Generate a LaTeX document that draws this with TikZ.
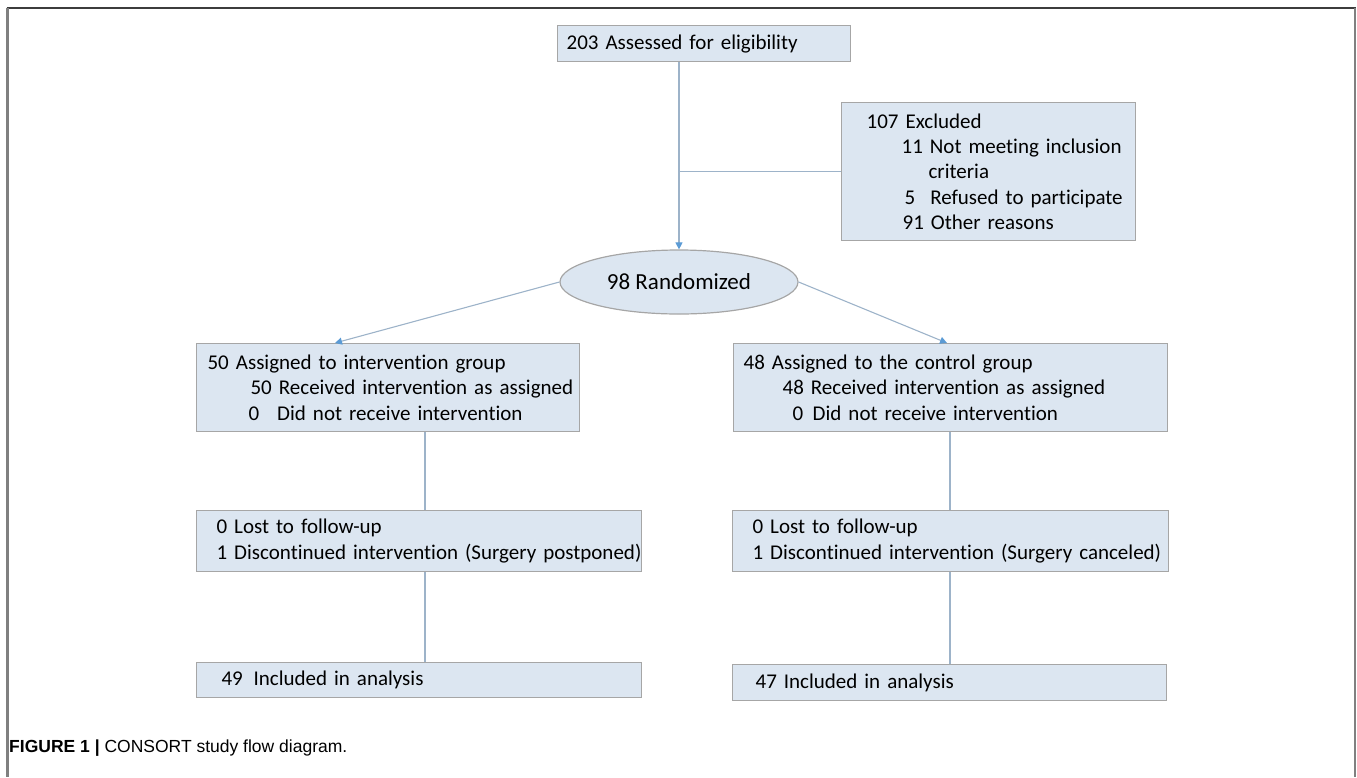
\documentclass[tikz,border=0pt]{standalone}
\usepackage{fontspec}
\setmainfont{Carlito}[Ligatures=NoCommon]
\newfontfamily\capfont{Liberation Sans}
\usetikzlibrary{shapes.geometric,arrows.meta}
\definecolor{boxfill}{HTML}{DCE6F1}
\definecolor{boxline}{HTML}{A6A6A6}
\definecolor{connline}{HTML}{9DB3C9}
\definecolor{arrowblue}{HTML}{5B9BD5}
\definecolor{frametop}{HTML}{3C3C3C}
\definecolor{frameside}{HTML}{808080}
\tikzset{
  box/.style={draw=boxline, fill=boxfill, line width=1.2pt, anchor=north west,
    align=left, inner ysep=0pt, font=\fontsize{21}{25.3}\selectfont},
  conn/.style={draw=connline, line width=1.1pt},
  arr/.style={conn, -{Triangle[length=7pt,width=7pt,color=arrowblue]}},
}
\begin{document}
\begin{tikzpicture}[x=1pt,y=-1pt]
\useasboundingbox (0,0) rectangle (1357,777);
% frame
\draw[frametop, line width=2pt] (6.5,8) -- (1356,8);
\draw[frameside, line width=2.5pt] (7.5,8) -- (7.5,777);
\draw[frameside, line width=2.5pt] (1355,8) -- (1355,777);

% top box
\node[box, inner xsep=9pt, text width=275pt, minimum height=36pt] (top) at (557,25)
  {203 Assessed for eligibility};
% excluded
\node[box, inner xsep=0pt, text width=294pt, minimum height=138pt] (excl) at (841,102)
  {\hspace*{25pt}107 Excluded\\
   \hspace*{60pt}11 Not meeting inclusion\\
   \hspace*{87pt}criteria\\
   \hspace*{63pt}5\hspace{15pt}Refused to participate\\
   \hspace*{61pt}91 Other reasons};
% randomized
\node[ellipse, draw=boxline, fill=boxfill, line width=1.2pt, minimum width=238pt,
  minimum height=64pt, inner sep=0pt, font=\fontsize{23}{26}\selectfont] (rand) at (679,282)
  {98 Randomized};
% group boxes
\node[box, inner xsep=0pt, text width=383pt, minimum height=88pt] (g1) at (196,343)
  {\hspace*{11pt}50 Assigned to intervention group\\
   \hspace*{54pt}50 Received intervention as assigned\\
   \hspace*{52pt}0\hspace{18pt}Did not receive intervention};
\node[box, inner xsep=0pt, text width=434pt, minimum height=88pt] (g2) at (733,343)
  {\hspace*{10pt}48 Assigned to the control group\\
   \hspace*{49pt}48 Received intervention as assigned\\
   \hspace*{59pt}0\hspace{9.5pt}Did not receive intervention};
% follow-up boxes
\node[box, inner xsep=0pt, text width=445pt, minimum height=61pt] (l1) at (196,510)
  {\hspace*{20pt}0 Lost to follow-up\\
   \hspace*{20pt}1 Discontinued intervention (Surgery postponed)};
\node[box, inner xsep=0pt, text width=436pt, minimum height=61pt] (l2) at (732,510)
  {\hspace*{20pt}0 Lost to follow-up\\
   \hspace*{20pt}1 Discontinued intervention (Surgery canceled)};
% analysis boxes
\node[box, inner xsep=0pt, text width=445pt, minimum height=35pt] (a1) at (196,662)
  {\hspace*{25pt}49\hspace{10.7pt}Included in analysis};
\node[box, inner xsep=0pt, text width=434pt, minimum height=36pt] (a2) at (732,664)
  {\hspace*{23pt}47 Included in analysis};

% connectors
\coordinate (lx) at (425,0);
\coordinate (rx) at (950,0);
\draw[arr] (top.south -| rand.north) -- (rand.north);
\draw[conn] (excl.west) -- (excl.west -| rand.north);
\draw[arr] (rand.west) -- ([xshift=139pt]g1.north west);
\draw[arr] (rand.east) -- ([xshift=214pt]g2.north west);
\draw[conn] (g1.south -| lx) -- (l1.north -| lx);
\draw[conn] (l1.south -| lx) -- (a1.north -| lx);
\draw[conn] (g2.south -| rx) -- (l2.north -| rx);
\draw[conn] (l2.south -| rx) -- (a2.north -| rx);

% caption
\node[anchor=base west, inner sep=0pt, font=\capfont\fontsize{17.5}{20}\selectfont] (cap) at (9,752)
  {\textbf{FIGURE 1} \textbf{|} CONSORT study flow diagram.};
\end{tikzpicture}
\end{document}
